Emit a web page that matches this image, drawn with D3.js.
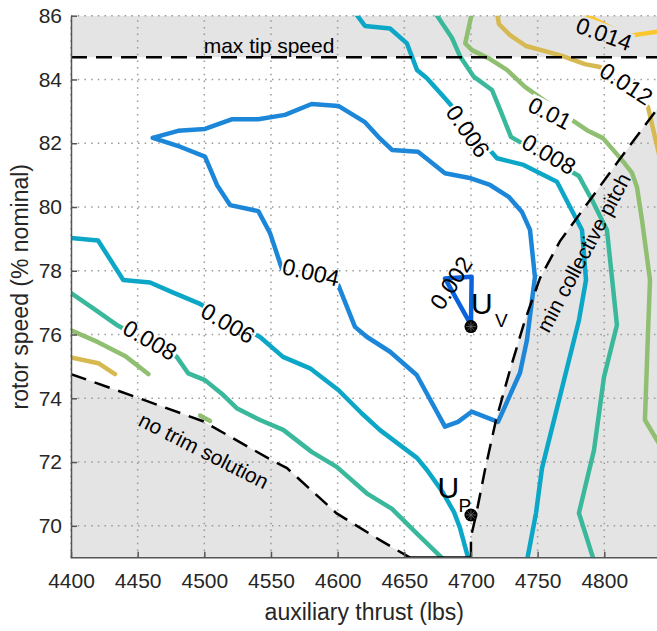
<!DOCTYPE html>
<html>
<head>
<meta charset="utf-8">
<script src="https://cdn.jsdelivr.net/npm/d3@7"></script>
<style>
  html, body { margin: 0; padding: 0; background: #fff; }
  svg { display: block; font-family: "Liberation Sans", Arial, Helvetica, sans-serif; }
</style>
</head>
<body>
<script>
// Contour levels and their colours
const levels = [0.002, 0.004, 0.006, 0.008, 0.01, 0.012, 0.014];
const levelColors = ["#0b62df", "#1c87d8", "#0ca7c7", "#3ab89b", "#91bf71", "#d7b952", "#fac72f"];

// Contour polylines, points are [auxiliary thrust (lbs), rotor speed (% nominal)]
const contour002 = [[4700, 76.3], [4700.5, 77.81], [4680.5, 77.76], [4700, 76.3]];
const contour004 = [
  [4461.3, 82.17], [4480.3, 82.39], [4500.5, 82.45], [4520.5, 82.75], [4540.5, 82.75],
  [4560.5, 82.89], [4580.5, 83.23], [4600.5, 83.17], [4620.5, 82.66], [4630.5, 82.2],
  [4640.8, 81.79], [4660.3, 81.73], [4680.5, 81.06], [4700, 80.9], [4714.3, 80.69],
  [4728.3, 80.32], [4738.3, 79.84], [4744.3, 79.28], [4748, 77.8], [4742, 75.83],
  [4736.8, 74.8], [4720.3, 73.26], [4700.5, 73.58], [4690.3, 73.26], [4680.5, 73.11],
  [4659.3, 74.73], [4639.3, 75.46], [4621.8, 75.93], [4613, 76.24], [4600.5, 77.55],
  [4558.3, 78.05], [4549.3, 79.18], [4540.5, 79.87], [4519.3, 80.06], [4509.5, 80.69],
  [4500.5, 81.58], [4481.8, 81.89], [4461.3, 82.17]
];
const contour006Low = [
  [4400, 79.03], [4420.3, 78.95], [4439.2, 77.71], [4459.3, 77.63], [4475.8, 77.33],
  [4496.8, 76.96], [4541.8, 75.92], [4559, 75.3], [4579.3, 74.94], [4600.5, 74.26],
  [4618, 73.53], [4631.8, 73.0], [4659.5, 72.13], [4667, 71.75], [4678.3, 71.09],
  [4687.3, 70.43], [4691.8, 69.93], [4698.5, 68.9]
];
const contour006High = [
  [4613, 86.1], [4620.5, 85.68], [4639.3, 85.6], [4652, 85.13], [4659.5, 84.3],
  [4667, 84.04], [4680.5, 83.41], [4719.5, 81.53], [4739.5, 81.32], [4764.5, 80.79],
  [4783.3, 79.28], [4786.3, 77.71], [4781, 76.45], [4753.3, 71.81], [4748.8, 70.4],
  [4742, 68.9]
];
const contour008Low = [
  [4400, 77.3], [4416.7, 76.82], [4434.3, 76.3], [4479.3, 75.3], [4488, 74.78],
  [4500.5, 74.57], [4514.2, 74.1], [4524.3, 73.69], [4541.8, 73.32], [4559.2, 73.01],
  [4580.5, 72.32], [4599.3, 71.85], [4621.8, 71.02], [4640.8, 70.53], [4659.3, 69.76],
  [4680.5, 68.9]
];
const contour008High = [
  [4673, 86.1], [4679.8, 85.68], [4685.8, 85.3], [4692, 84.71], [4702, 84.09],
  [4715.8, 83.67], [4722, 83.04], [4730, 82.2], [4781, 80.97], [4790.8, 80.22],
  [4802, 79.28], [4805.8, 77.77], [4809.5, 76.3], [4799.8, 74.67], [4792.3, 72.38],
  [4781, 70.4], [4792.3, 68.9]
];
const contour010Left = [[4400, 76.13], [4420.3, 75.76], [4440.5, 75.33], [4458, 74.76]];
const contour010Spot = [[4496.8, 73.46], [4504.3, 73.29]];
const contour010Right = [
  [4700.8, 86.1], [4695.7, 85.13], [4700.8, 84.92], [4714.3, 84.64], [4727, 84.3],
  [4740.5, 83.77], [4776.7, 82.7], [4787, 82.41], [4799, 82.16], [4813.3, 81.47],
  [4820.8, 81.07], [4824.5, 80.63], [4828.3, 79.59], [4834.3, 77.71], [4832.8, 76.05],
  [4830.5, 73.32], [4848, 72.1]
];
const contour012Left = [[4400, 75.28], [4420.5, 75.1], [4433, 74.76]];
const contour012Right = [
  [4719.5, 86.1], [4721, 85.74], [4729.3, 85.39], [4741.3, 85.05], [4755.5, 84.89],
  [4768.3, 84.74], [4785.5, 84.48], [4796.8, 84.39], [4832.8, 83.14], [4837.3, 82.32],
  [4842, 81.5]
];
const contour014 = [[4778, 86.2], [4817, 85.36], [4848, 85.55]];

const contourLines = [
  { level: 0.002, points: contour002 },
  { level: 0.004, points: contour004 },
  { level: 0.006, points: contour006Low },
  { level: 0.006, points: contour006High },
  { level: 0.008, points: contour008Low },
  { level: 0.008, points: contour008High },
  { level: 0.01, points: contour010Left },
  { level: 0.01, points: contour010Spot },
  { level: 0.01, points: contour010Right },
  { level: 0.012, points: contour012Left },
  { level: 0.012, points: contour012Right },
  { level: 0.014, points: contour014 }
];

// Inline contour labels: level, centre [thrust, speed], angle in degrees
const contourLabels = [
  { level: 0.002, at: [4685, 77.62], angle: -57, gap: false },
  { level: 0.004, at: [4580, 77.96], angle: 13, gap: true },
  { level: 0.006, at: [4517.8, 76.36], angle: 30, gap: true },
  { level: 0.008, at: [4459.3, 75.83], angle: 30, gap: true },
  { level: 0.006, at: [4697.8, 82.38], angle: 55, gap: true },
  { level: 0.008, at: [4758.5, 81.66], angle: 30, gap: true },
  { level: 0.01, at: [4759.3, 82.95], angle: 27, gap: true },
  { level: 0.012, at: [4816.6, 83.87], angle: 33, gap: true },
  { level: 0.014, at: [4799.8, 85.43], angle: 20, gap: true }
];

// Constraint boundaries
const maxTipSpeed = 84.7;
const noTrimEdge = [
  [4400, 74.76], [4449.3, 74.03], [4499, 73.28], [4551.7, 72.03], [4562, 71.81],
  [4599.3, 70.39], [4631.8, 69.55], [4654.3, 69.0]
];
const minCollectiveEdge = [
  [4700, 69.0], [4700, 69.65], [4703.8, 70.34], [4710.5, 71.75], [4718.8, 73.32],
  [4729.3, 74.89], [4740.5, 76.45], [4751.8, 77.77], [4766.8, 78.93], [4789.3, 80.22],
  [4809.5, 81.38], [4845, 83.37]
];

// Design points
const designPoints = [
  { name: "U", sub: "V", thrust: 4700, speed: 76.25 },
  { name: "U", sub: "P", thrust: 4700, speed: 70.34 }
];

const xTicks = [4400, 4450, 4500, 4550, 4600, 4650, 4700, 4750, 4800];
const yTicks = [70, 72, 74, 76, 78, 80, 82, 84, 86];
const xDomain = [4400, 4840];
const yDomain = [69, 86];

// ---- layout ----
const W = 657, H = 631;
const plot = { left: 71, top: 15.7, right: 657.6, bottom: 557.7 };
const FONT = 21;

const x = d3.scaleLinear().domain(xDomain).range([plot.left, plot.right]);
const y = d3.scaleLinear().domain(yDomain).range([plot.bottom, plot.top]);
const colorOf = d3.scaleOrdinal().domain(levels).range(levelColors);
const line = d3.line().x(d => x(d[0])).y(d => y(d[1]));

const svg = d3.select("body").append("svg").attr("width", W).attr("height", H);
const defs = svg.append("defs");
defs.append("clipPath").attr("id", "plot-clip")
  .append("rect")
  .attr("x", plot.left).attr("y", plot.top)
  .attr("width", plot.right - plot.left).attr("height", plot.bottom - plot.top);

const gFill = svg.append("g").attr("clip-path", "url(#plot-clip)");
const gGrid = svg.append("g");
const gLines = svg.append("g").attr("clip-path", "url(#plot-clip)");
const gLabels = svg.append("g");
const gBounds = svg.append("g").attr("clip-path", "url(#plot-clip)");
const gAxes = svg.append("g");
const gNotes = svg.append("g");
const gPoints = svg.append("g");

// ---- infeasible regions ----
const shade = "#e4e4e4";
gFill.append("rect")
  .attr("x", plot.left).attr("y", y(yDomain[1]))
  .attr("width", plot.right - plot.left).attr("height", y(maxTipSpeed) - y(yDomain[1]))
  .attr("fill", shade);
gFill.append("path")
  .attr("d", line(noTrimEdge.concat([[xDomain[0], yDomain[0]]])) + "Z")
  .attr("fill", shade);
const mcLast = minCollectiveEdge[minCollectiveEdge.length - 1];
gFill.append("path")
  .attr("d", line(minCollectiveEdge.concat([[mcLast[0], yDomain[0]]])) + "Z")
  .attr("fill", shade);

// ---- dotted grid ----
const gridStyle = g => g.attr("stroke", "#9a9a9a").attr("stroke-width", 1.5)
  .attr("stroke-dasharray", "1.5,5.2").attr("fill", "none");
gGrid.selectAll("line.gx").data(xTicks).join("line")
  .attr("x1", d => x(d)).attr("x2", d => x(d))
  .attr("y1", plot.bottom).attr("y2", plot.top)
  .call(gridStyle);
gGrid.selectAll("line.gy").data(yTicks).join("line")
  .attr("y1", d => y(d)).attr("y2", d => y(d))
  .attr("x1", plot.left).attr("x2", W)
  .call(gridStyle);

// ---- contour labels (drawn first so their widths can cut gaps in the lines) ----
const labelNodes = gLabels.selectAll("text").data(contourLabels).join("text")
  .attr("transform", d => `translate(${x(d.at[0])},${y(d.at[1])}) rotate(${d.angle})`)
  .attr("text-anchor", "middle")
  .attr("dy", "0.36em")
  .attr("font-size", 23)
  .attr("fill", "#000")
  .text(d => String(d.level));

labelNodes.each(function (d) { d.width = this.getComputedTextLength(); });

levels.forEach((lv, i) => {
  const m = defs.append("mask").attr("id", "gap-" + i)
    .attr("maskUnits", "userSpaceOnUse")
    .attr("x", 0).attr("y", 0).attr("width", W).attr("height", H);
  m.append("rect").attr("x", 0).attr("y", 0).attr("width", W).attr("height", H).attr("fill", "#fff");
  contourLabels.filter(d => d.level === lv && d.gap).forEach(d => {
    m.append("rect")
      .attr("transform", `translate(${x(d.at[0])},${y(d.at[1])}) rotate(${d.angle})`)
      .attr("x", -d.width / 2 - 1).attr("y", -10)
      .attr("width", d.width + 2).attr("height", 20)
      .attr("fill", "#000");
  });
});

// ---- contour lines ----
gLines.selectAll("path").data(contourLines).join("path")
  .attr("d", d => line(d.points))
  .attr("fill", "none")
  .attr("stroke", d => colorOf(d.level))
  .attr("stroke-width", 4.5)
  .attr("stroke-linejoin", "round")
  .attr("stroke-linecap", "round")
  .attr("mask", d => `url(#gap-${levels.indexOf(d.level)})`);

// ---- constraint boundaries ----
const dashStyle = p => p.attr("fill", "none").attr("stroke", "#000")
  .attr("stroke-width", 2.5).attr("stroke-dasharray", "16,9");
gBounds.append("line")
  .attr("x1", plot.left).attr("x2", plot.right)
  .attr("y1", y(maxTipSpeed)).attr("y2", y(maxTipSpeed))
  .call(dashStyle);
gBounds.append("path").attr("d", line(noTrimEdge)).call(dashStyle);
gBounds.append("path").attr("d", line(minCollectiveEdge)).call(dashStyle);
// floor of the trimmed region between the two boundaries
gBounds.append("line")
  .attr("x1", x(noTrimEdge[noTrimEdge.length - 1][0]))
  .attr("x2", x(minCollectiveEdge[0][0]))
  .attr("y1", y(yDomain[0]) - 0.5).attr("y2", y(yDomain[0]) - 0.5)
  .attr("stroke", "#000").attr("stroke-width", 2);

// ---- axes ----
const axisColor = "#555";
const yAxis = d3.axisLeft(y).tickValues(yTicks).tickFormat(d3.format("d"))
  .tickSizeInner(-6).tickSizeOuter(0).tickPadding(9);
const xAxis = d3.axisBottom(x).tickValues(xTicks).tickFormat(d3.format("d"))
  .tickSizeInner(-6).tickSizeOuter(0).tickPadding(15.5);

const gy = gAxes.append("g").attr("transform", `translate(${plot.left},0)`).call(yAxis);
const gx = gAxes.append("g").attr("transform", `translate(0,${plot.bottom})`).call(xAxis);
[gx, gy].forEach(g => {
  g.select(".domain").attr("stroke", axisColor).attr("stroke-width", 1.5);
  g.selectAll(".tick line").attr("stroke", axisColor).attr("stroke-width", 1.5);
  g.selectAll(".tick text").attr("fill", "#262626").attr("font-size", FONT)
    .attr("font-family", "\"Liberation Sans\", Arial, Helvetica, sans-serif");
});
gx.select(".domain").attr("d", `M0.5,0H${W}`).attr("transform", `translate(${plot.left - 0.5},0)`);

gAxes.append("text")
  .attr("x", (plot.left + plot.right) / 2).attr("y", 620)
  .attr("text-anchor", "middle").attr("font-size", 23).attr("fill", "#262626")
  .text("auxiliary thrust (lbs)");
gAxes.append("text")
  .attr("transform", `translate(27.5,${(plot.top + plot.bottom) / 2}) rotate(-90)`)
  .attr("text-anchor", "middle").attr("font-size", 23).attr("fill", "#262626")
  .text("rotor speed (% nominal)");

// ---- region annotations ----
gNotes.append("text")
  .attr("x", x(4499.5)).attr("y", y(84.84))
  .attr("font-size", FONT).attr("fill", "#000")
  .text("max tip speed");
gNotes.append("text")
  .attr("transform", `translate(${x(4497.1)},${y(72.15)}) rotate(27)`)
  .attr("text-anchor", "middle").attr("font-size", FONT).attr("fill", "#000")
  .text("no trim solution");
gNotes.append("text")
  .attr("transform", `translate(${x(4789.3)},${y(78.46)}) rotate(-62)`)
  .attr("text-anchor", "middle").attr("font-size", FONT).attr("fill", "#000")
  .text("min collective pitch");

// ---- design points ----
const labelOffsets = { V: { u: [0, -13], s: [24, 0.5] }, P: { u: [-33.4, -16.6], s: [-12.5, -3.3] } };
designPoints.forEach(p => {
  const cx = x(p.thrust), cy = y(p.speed);
  gPoints.append("circle").attr("cx", cx).attr("cy", cy).attr("r", 6.5).attr("fill", "#000");
  const star = gPoints.append("g").attr("stroke", "#666").attr("stroke-width", 0.8);
  [0, 45, 90, 135].forEach(a => {
    const r = 5, t = a * Math.PI / 180;
    star.append("line")
      .attr("x1", cx - r * Math.cos(t)).attr("y1", cy - r * Math.sin(t))
      .attr("x2", cx + r * Math.cos(t)).attr("y2", cy + r * Math.sin(t));
  });
  const off = labelOffsets[p.sub];
  gPoints.append("text").attr("x", cx + off.u[0]).attr("y", cy + off.u[1])
    .attr("font-size", 30).attr("fill", "#000").text(p.name);
  gPoints.append("text").attr("x", cx + off.s[0]).attr("y", cy + off.s[1])
    .attr("font-size", 19).attr("fill", "#000").text(p.sub);
});
</script>
</body>
</html>
